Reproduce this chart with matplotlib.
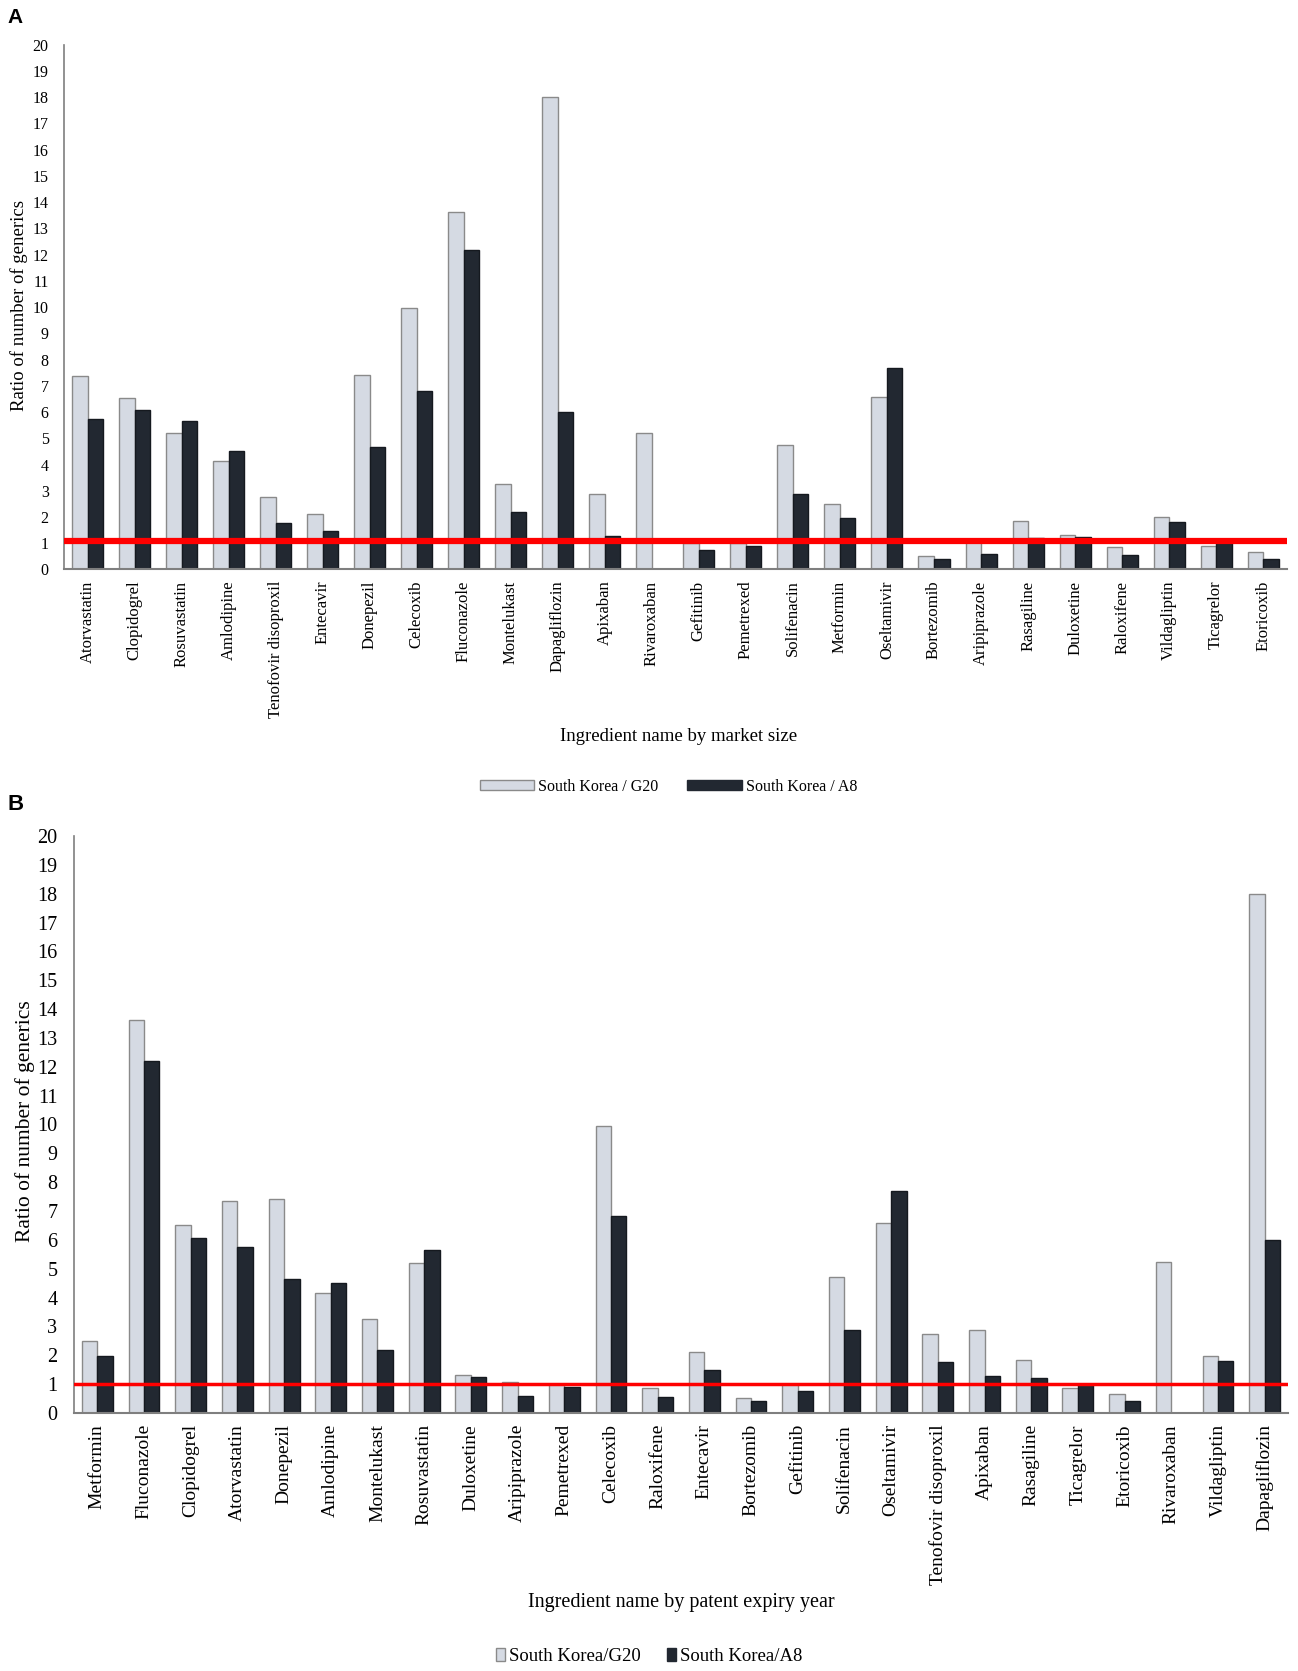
import numpy as np
import matplotlib
matplotlib.use("Agg")
import matplotlib.pyplot as plt
from matplotlib.patches import Patch

plt.rcParams["font.family"] = ["Liberation Serif", "DejaVu Serif"]

# ---------------- data (panel A order: by market size) ----------------
drugs_market = [
    "Atorvastatin", "Clopidogrel", "Rosuvastatin", "Amlodipine",
    "Tenofovir disoproxil", "Entecavir", "Donepezil", "Celecoxib",
    "Fluconazole", "Montelukast", "Dapagliflozin", "Apixaban",
    "Rivaroxaban", "Gefitinib", "Pemetrexed", "Solifenacin", "Metformin",
    "Oseltamivir", "Bortezomib", "Aripiprazole", "Rasagiline",
    "Duloxetine", "Raloxifene", "Vildagliptin", "Ticagrelor", "Etoricoxib",
]
ratio_g20 = [
    7.36, 6.52, 5.19, 4.15, 2.75, 2.10, 7.41, 9.95, 13.63, 3.27, 18.0, 2.87,
    5.22, 1.02, 1.00, 4.73, 2.48, 6.59, 0.52, 1.08, 1.85, 1.30, 0.85, 1.99,
    0.88, 0.65,
]
ratio_a8 = [
    5.74, 6.06, 5.65, 4.51, 1.76, 1.48, 4.66, 6.82, 12.19, 2.19, 5.99, 1.27,
    0.0, 0.75, 0.89, 2.88, 1.96, 7.69, 0.40, 0.60, 1.21, 1.25, 0.55, 1.80,
    1.00, 0.40,
]

# panel B order: by patent expiry year
drugs_expiry = [
    "Metformin", "Fluconazole", "Clopidogrel", "Atorvastatin", "Donepezil",
    "Amlodipine", "Montelukast", "Rosuvastatin", "Duloxetine", "Aripiprazole",
    "Pemetrexed", "Celecoxib", "Raloxifene", "Entecavir", "Bortezomib",
    "Gefitinib", "Solifenacin", "Oseltamivir", "Tenofovir disoproxil",
    "Apixaban", "Rasagiline", "Ticagrelor", "Etoricoxib", "Rivaroxaban",
    "Vildagliptin", "Dapagliflozin",
]

C_G20 = "#d5dae3"
C_G20_EDGE = "#8a8a8a"
C_A8 = "#222831"

fig = plt.figure(figsize=(12.98, 16.71), dpi=100)


def draw_panel(ax, names, g20, a8, fs, yfs, red_y, red_lw, ypad):
    x = np.arange(len(names))
    w = 0.33
    ax.bar(x - w / 2, g20, w, color=C_G20, edgecolor=C_G20_EDGE, linewidth=1.0)
    ax.bar(x + w / 2, a8, w, color=C_A8, edgecolor="#15191f", linewidth=1.0)
    ax.axhline(red_y, color="#ff0000", linewidth=red_lw, zorder=5)
    ax.set_xlim(-0.5, len(names) - 0.5)
    ax.set_ylim(0, 20)
    ax.set_yticks(range(0, 21))
    ax.set_xticks(x)
    ax.set_xticklabels(names, rotation=90, fontsize=fs)
    ax.tick_params(axis="y", length=0, pad=ypad, labelsize=yfs)
    ax.tick_params(axis="x", length=0, pad=8)
    for s in ("top", "right"):
        ax.spines[s].set_visible(False)
    ax.spines["left"].set_color("#7f7f7f")
    ax.spines["bottom"].set_color("#7f7f7f")
    ax.spines["left"].set_linewidth(1.2)
    ax.spines["bottom"].set_linewidth(1.5)


# ---------------- panel A ----------------
axA = fig.add_axes([0.0493, 0.6592, 0.9420, 0.3140])
draw_panel(axA, drugs_market, ratio_g20, ratio_a8, 12, 11.5, 1.1, 4.5, 11)
fig.text(0.0146, 0.817, "Ratio of number of generics", rotation=90,
         ha="center", va="center", fontsize=13.5)
fig.text(0.523, 0.559, "Ingredient name by market size", ha="center",
         va="center", fontsize=13.5)
legA = [Patch(facecolor=C_G20, edgecolor=C_G20_EDGE, label="South Korea / G20"),
        Patch(facecolor=C_A8, edgecolor=C_A8, label="South Korea / A8")]
fig.legend(handles=legA, loc="center", bbox_to_anchor=(0.515, 0.529), ncol=2,
           frameon=False, fontsize=11.5, handlelength=3.4, handleheight=0.6,
           handletextpad=0.25, columnspacing=1.8)
fig.text(0.006, 0.995, "A", fontsize=15, fontweight="bold",
         family="Liberation Sans", ha="left", va="top")

# ---------------- panel B ----------------
gB = [ratio_g20[drugs_market.index(d)] for d in drugs_expiry]
aB = [ratio_a8[drugs_market.index(d)] for d in drugs_expiry]
axB = fig.add_axes([0.0570, 0.1544, 0.9353, 0.3453])
draw_panel(axB, drugs_expiry, gB, aB, 14, 14.5, 1.0, 2.5, 12)
fig.text(0.019, 0.329, "Ratio of number of generics", rotation=90,
         ha="center", va="center", fontsize=15.5)
fig.text(0.525, 0.0407, "Ingredient name by patent expiry year", ha="center",
         va="center", fontsize=14.5)
legB = [Patch(facecolor=C_G20, edgecolor=C_G20_EDGE, label="South Korea/G20"),
        Patch(facecolor=C_A8, edgecolor=C_A8, label="South Korea/A8")]
fig.legend(handles=legB, loc="center", bbox_to_anchor=(0.50, 0.0085), ncol=2,
           frameon=False, fontsize=13.5, handlelength=0.5, handleheight=0.7,
           handletextpad=0.2, columnspacing=1.4)
fig.text(0.006, 0.525, "B", fontsize=16, fontweight="bold",
         family="Liberation Sans", ha="left", va="top")

fig.savefig("out.png", dpi=100, facecolor="white")
